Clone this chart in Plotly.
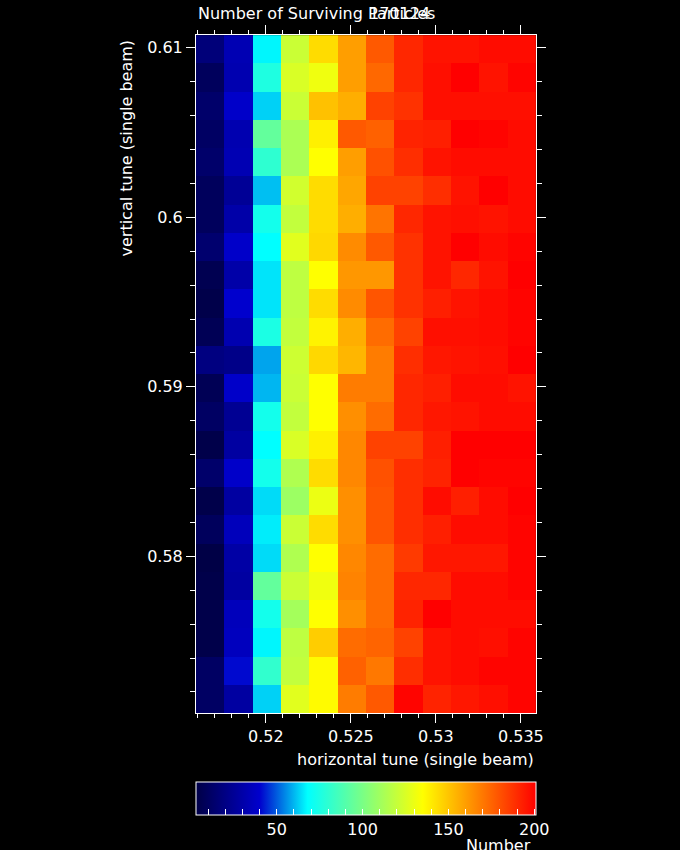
import plotly.graph_objects as go

# Horizontal tune (column centres) and vertical tune (row centres, ascending)
h_tune = [0.51672, 0.51839, 0.52005, 0.52172, 0.52339, 0.52505,
          0.52672, 0.52839, 0.53005, 0.53172, 0.53339, 0.53505]
v_tune = [0.57159, 0.57326, 0.57492, 0.57659, 0.57826, 0.57992,
          0.58159, 0.58326, 0.58492, 0.58659, 0.58826, 0.58992,
          0.59159, 0.59326, 0.59492, 0.59659, 0.59826, 0.59992,
          0.60159, 0.60326, 0.60492, 0.60659, 0.60826, 0.60992]

# Surviving particles, rows listed from the top (highest vertical tune) down
survivors_top_down = [
    [17, 33, 67, 121, 144, 160, 178, 191, 196, 196, 198, 198],
    [9, 32, 76, 125, 131, 160, 174, 191, 197, 201, 196, 200],
    [13, 39, 63, 121, 151, 156, 184, 188, 197, 197, 197, 197],
    [11, 32, 94, 113, 139, 178, 176, 192, 193, 201, 200, 198],
    [13, 33, 80, 113, 135, 160, 180, 189, 196, 198, 198, 198],
    [9, 25, 61, 123, 144, 158, 184, 184, 189, 196, 201, 198],
    [9, 30, 73, 119, 144, 156, 171, 191, 196, 197, 196, 198],
    [14, 39, 68, 127, 145, 165, 178, 188, 196, 201, 198, 200],
    [6, 30, 65, 118, 135, 162, 162, 188, 196, 191, 196, 201],
    [4, 40, 65, 118, 144, 165, 179, 188, 193, 196, 198, 200],
    [7, 32, 75, 119, 138, 156, 173, 184, 197, 197, 198, 200],
    [19, 21, 58, 122, 145, 154, 169, 189, 195, 196, 197, 201],
    [7, 39, 60, 121, 135, 169, 169, 191, 193, 198, 198, 196],
    [11, 24, 73, 119, 135, 164, 173, 191, 195, 196, 198, 198],
    [4, 28, 68, 125, 139, 166, 184, 184, 193, 201, 201, 201],
    [13, 39, 73, 114, 144, 166, 180, 189, 192, 201, 200, 200],
    [4, 28, 64, 109, 130, 164, 179, 189, 198, 193, 198, 201],
    [9, 35, 66, 121, 144, 164, 179, 189, 193, 198, 198, 200],
    [3, 29, 64, 114, 135, 166, 173, 186, 195, 195, 195, 200],
    [4, 28, 94, 121, 131, 167, 173, 191, 191, 198, 198, 200],
    [4, 35, 73, 111, 135, 164, 173, 192, 201, 198, 198, 198],
    [4, 36, 67, 118, 148, 173, 175, 184, 196, 198, 197, 200],
    [11, 41, 81, 119, 136, 176, 170, 189, 196, 198, 200, 200],
    [11, 28, 63, 127, 136, 169, 178, 200, 192, 195, 197, 200],
]

x_ticks = [0.52, 0.525, 0.53, 0.535]
y_ticks = [0.58, 0.59, 0.6, 0.61]
cb_tickvals = [10, 20, 30, 40, 50, 60, 70, 80, 90, 100, 110, 120, 130, 140,
               150, 160, 170, 180, 190, 200]
cb_ticktext = ["", "", "", "", "50", "", "", "", "", "100", "", "", "", "",
               "150", "", "", "", "", "200"]

z_min, z_max = 3, 201
colorscale = [
    [0.0, "rgb(0,0,70)"],
    [0.1869, "rgb(0,0,205)"],
    [0.3283, "rgb(0,255,255)"],
    [0.6667, "rgb(255,255,0)"],
    [1.0, "rgb(255,0,0)"],
]

FONT = "DejaVu Sans"
FS = 16
txt_font = dict(family=FONT, size=FS, color="white")
z = survivors_top_down[::-1]

fig = go.Figure(go.Heatmap(
    x=h_tune, y=v_tune, z=z,
    zmin=z_min, zmax=z_max, colorscale=colorscale,
    colorbar=dict(
        orientation="h", x=0.5, xanchor="center", y=-0.1018, yanchor="top",
        len=1, lenmode="fraction", thickness=33, xpad=0, ypad=0,
        outlinecolor="white", outlinewidth=1,
        tickvals=cb_tickvals, ticktext=cb_ticktext,
        ticks="inside", ticklen=6, tickcolor="white",
        tickfont=txt_font,
    ),
))

axis_common = dict(
    showgrid=False, zeroline=False, showline=True, linecolor="white",
    linewidth=1, mirror="ticks", ticks="outside", ticklen=9,
    tickcolor="white", tickfont=txt_font,
)
fig.update_xaxes(
    range=[0.51589, 0.53589], tickvals=x_ticks,
    minor=dict(dtick=0.001, tick0=0, ticks="outside", ticklen=4, tickcolor="white"),
    **axis_common,
)
fig.update_yaxes(
    range=[0.57076, 0.61076], tickvals=y_ticks,
    minor=dict(dtick=0.002, tick0=0, ticks="outside", ticklen=5, tickcolor="white"),
    **axis_common,
)

fig.add_annotation(text="Number of Surviving Particles", x=0, y=1.032,
                   xref="paper", yref="paper", xanchor="left", yanchor="middle",
                   showarrow=False, font=txt_font)
fig.add_annotation(text="170124", x=0.503, y=1.032,
                   xref="paper", yref="paper", xanchor="left", yanchor="middle",
                   showarrow=False, font=txt_font)
fig.add_annotation(text="horizontal tune (single beam)", x=1, y=-0.0693,
                   xref="paper", yref="paper", xanchor="right", yanchor="middle",
                   showarrow=False, font=txt_font)
fig.add_annotation(text="vertical tune (single beam)", x=-0.203, y=0.997,
                   xref="paper", yref="paper", xanchor="center", yanchor="top",
                   textangle=-90, showarrow=False, font=txt_font)
fig.add_annotation(text="Number", x=0.991, y=-0.1947,
                   xref="paper", yref="paper", xanchor="right", yanchor="middle",
                   showarrow=False, font=txt_font)

fig.update_layout(
    width=680, height=850,
    margin=dict(l=196, r=144, t=35, b=137, pad=0, autoexpand=False),
    paper_bgcolor="black", plot_bgcolor="black",
    font=txt_font,
    showlegend=False,
)

fig.write_html(
    "out.html",
    config={"displayModeBar": False},
    post_script="document.body.style.margin='0';"
                "document.body.style.background='black';"
                "document.body.style.overflow='hidden';",
)
